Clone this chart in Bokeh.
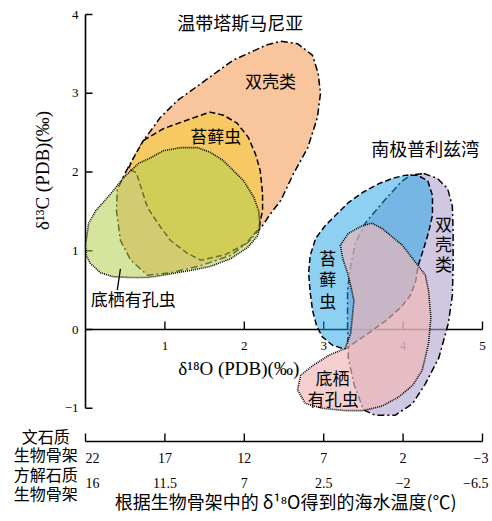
import math
from bokeh.plotting import figure
from bokeh.models import Range1d
from bokeh.embed import file_html
from bokeh.resources import INLINE
from bokeh.core.properties import value

# ---------------- data ----------------
y_ticks = [-1, 0, 1, 2, 3, 4]
y_tick_labels = ["−1", "0", "1", "2", "3", "4"]
x_ticks = [1, 2, 3, 4, 5]
x_tick_labels = ["1", "2", "3", "4", "5"]
temp_ticks = [0, 1, 2, 3, 4, 5]
aragonite_temps = ["22", "17", "12", "7", "2", "−3"]
calcite_temps = ["16", "11.5", "7", "2.5", "−2", "−6.5"]

# Temperate Tasmania
tas_bivalve_x = [0.50, 0.60, 0.73, 0.84, 0.94, 1.16, 1.45, 1.86, 2.08, 2.27, 2.46, 2.67, 2.86, 2.93, 2.96,
                 2.92, 2.80, 2.62, 2.46, 2.33, 2.23, 2.06, 1.83, 1.45, 1.07, 0.78, 0.57, 0.44, 0.39, 0.40]
tas_bivalve_y = [1.99, 2.17, 2.40, 2.55, 2.69, 2.91, 3.12, 3.42, 3.52, 3.61, 3.66, 3.63, 3.48, 3.25, 3.00,
                 2.69, 2.31, 1.98, 1.64, 1.47, 1.32, 1.12, 0.94, 0.81, 0.72, 0.69, 0.88, 1.13, 1.51, 1.77]
tas_bryozoan_x = [0.73, 0.98, 1.20, 1.45, 1.57, 1.74, 1.91, 2.05, 2.14, 2.20, 2.23, 2.23, 2.18, 2.02, 1.76,
                  1.45, 1.28, 1.07, 0.91, 0.78, 0.72, 0.64, 0.54, 0.60]
tas_bryozoan_y = [2.40, 2.55, 2.63, 2.72, 2.76, 2.72, 2.62, 2.44, 2.23, 2.02, 1.73, 1.51, 1.28, 1.09, 0.95,
                  0.88, 0.97, 1.13, 1.35, 1.55, 1.74, 1.99, 2.04, 2.17]
tas_foram_x = [0.00, 0.04, 0.13, 0.28, 0.38, 0.48, 0.67, 0.82, 0.98, 1.20, 1.41, 1.57, 1.73, 1.86, 1.99,
               2.12, 2.18, 2.20, 2.17, 2.04, 1.83, 1.57, 1.32, 0.98, 0.78, 0.57, 0.35, 0.19, 0.06, 0.01]
tas_foram_y = [1.07, 1.35, 1.51, 1.68, 1.80, 1.93, 2.11, 2.18, 2.27, 2.31, 2.31, 2.25, 2.15, 2.02, 1.89,
               1.68, 1.51, 1.32, 1.19, 1.04, 0.90, 0.80, 0.75, 0.69, 0.66, 0.66, 0.67, 0.72, 0.84, 0.94]

# Antarctic Prydz Bay
ant_bivalve_x = [4.26, 4.43, 4.56, 4.62, 4.63, 4.63, 4.62, 4.57, 4.45, 4.28, 4.12, 3.90, 3.65, 3.50, 3.38,
                 3.31, 3.30, 3.30, 3.34, 3.40, 3.53, 3.74, 3.97, 4.09]
ant_bivalve_y = [1.98, 1.92, 1.79, 1.57, 1.23, 0.81, 0.43, 0.08, -0.36, -0.69, -0.94, -1.09, -1.09, -1.02, -0.69,
                 -0.36, 0.08, 0.50, 0.81, 1.10, 1.36, 1.61, 1.87, 1.96]
ant_bryozoan_x = [4.18, 4.03, 3.87, 3.69, 3.49, 3.31, 3.15, 3.02, 2.90, 2.83, 2.81, 2.83, 2.86, 2.91, 2.98,
                  3.11, 3.27, 3.56, 3.78, 3.97, 4.09, 4.16, 4.19, 4.26, 4.32, 4.37, 4.37, 4.31]
ant_bryozoan_y = [1.96, 1.96, 1.92, 1.85, 1.74, 1.61, 1.45, 1.32, 1.16, 0.94, 0.72, 0.47, 0.24, 0.05, -0.09,
                  -0.20, -0.25, -0.05, 0.11, 0.28, 0.43, 0.62, 0.81, 1.03, 1.23, 1.45, 1.70, 1.89]
ant_foram_x = [3.27, 3.06, 2.86, 2.71, 2.67, 2.77, 2.98, 3.27, 3.50, 3.74, 3.94, 4.12, 4.24, 4.32, 4.35, 4.32,
               4.28, 4.19, 3.99, 3.87, 3.74, 3.61, 3.49, 3.31, 3.21, 3.24, 3.30, 3.34, 3.38, 3.36, 3.34]
ant_foram_y = [-0.24, -0.33, -0.46, -0.58, -0.77, -0.94, -1.00, -1.03, -1.03, -0.97, -0.86, -0.71, -0.52, -0.18,
               0.15, 0.50, 0.69, 0.81, 1.07, 1.17, 1.28, 1.35, 1.32, 1.22, 1.07, 0.90, 0.72, 0.56, 0.37, 0.15, -0.05]

# ---------------- figure ----------------
PX_X = 79.4   # pixels per x unit
PX_Y = 78.75  # pixels per y unit
OX, OY = 85, 329  # pixel position of the origin on the canvas
W, H = 490, 513

p = figure(width=W, height=H,
           x_range=Range1d(-OX / PX_X, (W - OX) / PX_X),
           y_range=Range1d((OY - H) / PX_Y, OY / PX_Y),
           output_backend="svg", toolbar_location=None,
           x_axis_location=None, y_axis_location=None, min_border=0)
p.grid.visible = False
p.outline_line_color = None
p.background_fill_color = "white"
p.border_fill_color = "white"

SERIF = value("Liberation Serif")
CJK = value("Noto Sans CJK SC")

# ---- axes (drawn beneath the translucent regions) ----
p.segment(x0=[0], y0=[min(y_ticks)], x1=[0], y1=[max(y_ticks)], line_color="black", line_width=1.6)
p.segment(x0=[0] * len(y_ticks), y0=y_ticks, x1=[7 / PX_X] * len(y_ticks), y1=y_ticks,
          line_color="black", line_width=1.4)
p.text(x=[-7 / PX_X] * len(y_ticks), y=y_ticks, text=y_tick_labels, text_font=SERIF,
       text_font_size=value("13px"), text_align="right", text_baseline="middle", text_color="black")
p.segment(x0=[0], y0=[0], x1=[max(x_ticks)], y1=[0], line_color="black", line_width=1.4)
p.segment(x0=x_ticks, y0=[0] * len(x_ticks), x1=x_ticks, y1=[8 / PX_Y] * len(x_ticks),
          line_color="black", line_width=1.4)
p.text(x=x_ticks, y=[-16 / PX_Y] * len(x_ticks), text=x_tick_labels, text_font=SERIF,
       text_font_size=value("13px"), text_align="center", text_baseline="middle", text_color="black")

# ---- Tasmania regions ----
p.patch(tas_bivalve_x, tas_bivalve_y, fill_color="#F8C59C", fill_alpha=1.0,
        line_color="black", line_width=1.5, line_dash="7 3 2 3")
p.patch(tas_bryozoan_x, tas_bryozoan_y, fill_color="#F7C962", fill_alpha=1.0,
        line_color="black", line_width=1.5, line_dash="6 3")
p.patch(tas_foram_x, tas_foram_y, fill_color="#B4D04F", fill_alpha=0.55,
        line_color="black", line_width=1.6, line_dash="1 1")

# ---- Antarctic regions ----
p.patch(ant_bivalve_x, ant_bivalve_y, fill_color="#B1A3CF", fill_alpha=0.6,
        line_color="black", line_width=1.5, line_dash="7 3 2 3")
p.patch(ant_bryozoan_x, ant_bryozoan_y, fill_color="#1BA1E5", fill_alpha=0.5,
        line_color="black", line_width=1.5, line_dash="6 3")
p.patch(ant_foram_x, ant_foram_y, fill_color="#F1B7B5", fill_alpha=0.65,
        line_color="black", line_width=1.6, line_dash="1 1")

# ---- labels ----
def label(x, y, t, size, font=CJK, align="center", angle=0.0):
    p.text(x=[x], y=[y], text=[t], text_font=font, text_font_size=value(size),
           text_align=align, text_baseline="middle", text_color="black", angle=angle)

label(1.95, 3.90, "温带塔斯马尼亚", "18px")
label(2.33, 3.16, "双壳类", "17px")
label(1.64, 2.46, "苔藓虫", "17px")
label(4.28, 2.31, "南极普利兹湾", "18px")
label(0.60, 0.39, "底栖有孔虫", "17px")
p.segment(x0=[0.44], y0=[0.77], x1=[0.40], y1=[0.50], line_color="black", line_width=1.3)

for ch, yy in zip("苔藓虫", [0.92, 0.645, 0.37]):
    label(3.05, yy, ch, "17px")
for ch, yy in zip("双壳类", [1.35, 1.09, 0.84]):
    label(4.51, yy, ch, "17px")
label(3.11, -0.61, "底栖", "17px")
label(3.12, -0.87, "有孔虫", "17px")

# axis titles
label(1.93, -0.50, "δ¹⁸O (PDB)(‰)", "19px", font=SERIF)
label(-0.54, 2.02, "δ¹³C (PDB)(‰)", "19px", font=SERIF, angle=math.pi / 2)

# ---- temperature axis ----
ty = -112 / PX_Y
p.segment(x0=[min(temp_ticks)], y0=[ty], x1=[max(temp_ticks)], y1=[ty], line_color="black", line_width=1.6)
p.segment(x0=temp_ticks, y0=[ty] * len(temp_ticks), x1=temp_ticks, y1=[ty + 8 / PX_Y] * len(temp_ticks),
          line_color="black", line_width=1.4)

row1 = -128 / PX_Y
row2 = -153 / PX_Y
mid = temp_ticks[1:-1]
p.text(x=mid, y=[row1] * len(mid), text=aragonite_temps[1:-1], text_font=SERIF,
       text_font_size=value("14px"), text_align="center", text_baseline="middle")
p.text(x=mid, y=[row2] * len(mid), text=calcite_temps[1:-1], text_font=SERIF,
       text_font_size=value("14px"), text_align="center", text_baseline="middle")
p.text(x=[temp_ticks[0]] * 2, y=[row1, row2], text=[aragonite_temps[0], calcite_temps[0]], text_font=SERIF,
       text_font_size=value("14px"), text_align="left", text_baseline="middle")
p.text(x=[(W - OX - 2) / PX_X] * 2, y=[row1, row2], text=[aragonite_temps[-1], calcite_temps[-1]],
       text_font=SERIF, text_font_size=value("14px"), text_align="right", text_baseline="middle")

label(-0.50, -106 / PX_Y, "文石质", "16px")
label(-0.50, -124 / PX_Y, "生物骨架", "16px")
label(-0.50, -144 / PX_Y, "方解石质", "16px")
label(-0.50, -163 / PX_Y, "生物骨架", "16px")

label(2.52, -171 / PX_Y, "根据生物骨架中的 δ¹⁸O得到的海水温度(℃)", "18px")

open("out.html", "w").write(file_html(p, INLINE))
